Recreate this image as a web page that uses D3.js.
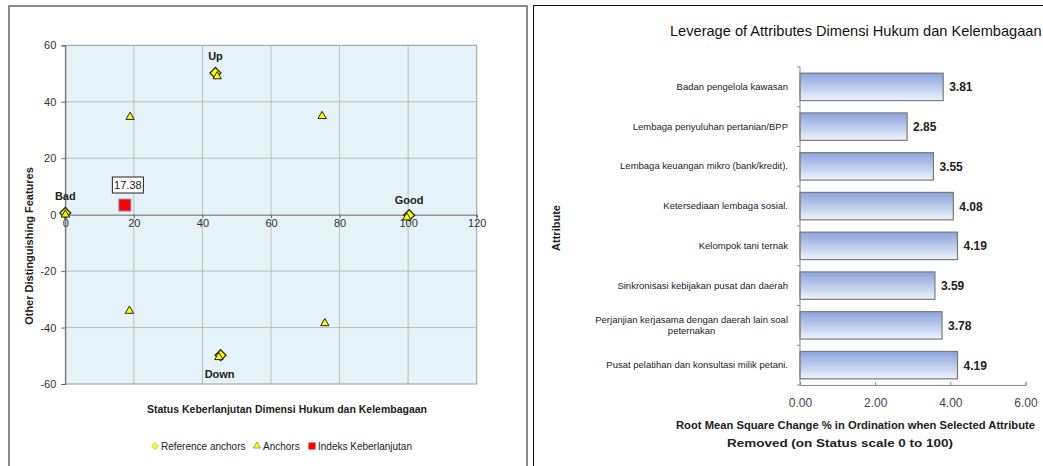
<!DOCTYPE html>
<html>
<head>
<meta charset="utf-8">
<script src="https://cdn.jsdelivr.net/npm/d3@7"></script>
<style>
  body { margin: 0; background: #fff; }
  svg { display: block; font-family: "Liberation Sans", Arial, sans-serif; }
</style>
</head>
<body>
<div id="chart"></div>
<script>
// ---- data: left (RAP ordination) ----
const refAnchors = [
  { name: 'Bad', x: 0, y: 0.6 },
  { name: 'Good', x: 100.3, y: -0.2 },
  { name: 'Up', x: 43.8, y: 50.2 },
  { name: 'Down', x: 45.3, y: -49.8 }
];
const anchors = [
  { x: 0, y: 0 }, { x: 99.6, y: -1 }, { x: 44.3, y: 49 }, { x: 44.8, y: -50.5 },
  { x: 18.9, y: 34.6 }, { x: 74.9, y: 34.9 }, { x: 18.7, y: -34.1 }, { x: 75.7, y: -38.5 }
];
const indeks = [{ x: 17.38, y: 3.4 }];
const xTicksL = [0, 20, 40, 60, 80, 100, 120];
const yTicksL = [-60, -40, -20, 0, 20, 40, 60];
const legendItems = ['Reference anchors', 'Anchors', 'Indeks Keberlanjutan'];

// ---- data: right (leverage) ----
const attributes = [
  'Badan pengelola kawasan',
  'Lembaga penyuluhan pertanian/BPP',
  'Lembaga keuangan mikro (bank/kredit).',
  'Ketersediaan lembaga sosial.',
  'Kelompok tani ternak',
  'Sinkronisasi kebijakan pusat dan daerah',
  'Perjanjian kerjasama dengan daerah lain soal peternakan',
  'Pusat pelatihan dan konsultasi milik petani.'
];
const leverage = [3.81, 2.85, 3.55, 4.08, 4.19, 3.59, 3.78, 4.19];
const xTicksR = [0, 2, 4, 6];

const W = 1043, H = 466;
const svg = d3.select('#chart').append('svg').attr('width', W).attr('height', H);

// diamond = square turned 45deg (d3's symbolDiamond is too narrow)
const diamond = r => `M0,${-r}L${r},0L0,${r}L${-r},0Z`;

// ================= LEFT PANEL =================
svg.append('rect').attr('x', 9).attr('y', 6).attr('width', 518).attr('height', 480)
  .attr('fill', 'none').attr('stroke', '#8a8a8a').attr('stroke-width', 2);

const xL = d3.scaleLinear().domain([0, 120]).range([65.3, 476.7]);
const yL = d3.scaleLinear().domain([-60, 60]).range([384, 45.3]);

const left = svg.append('g');
left.append('rect')
  .attr('x', xL(0)).attr('y', yL(60))
  .attr('width', xL(120) - xL(0)).attr('height', yL(-60) - yL(60))
  .attr('fill', '#e5f2f7').attr('stroke', '#9a9a9a');

// gridlines
left.selectAll('.vgrid').data(xTicksL.slice(1, -1)).join('line')
  .attr('x1', d => xL(d)).attr('x2', d => xL(d))
  .attr('y1', yL(60)).attr('y2', yL(-60))
  .attr('stroke', '#b8bfc2');
left.selectAll('.hgrid').data(yTicksL.slice(1, -1).filter(d => d !== 0)).join('line')
  .attr('x1', xL(0)).attr('x2', xL(120))
  .attr('y1', d => yL(d)).attr('y2', d => yL(d))
  .attr('stroke', '#b8bfc2');

// axes crossing at 0
const xAxisL = left.append('g').attr('transform', `translate(0,${yL(0)})`)
  .call(d3.axisBottom(xL).tickValues(xTicksL).tickSize(3).tickFormat(d => String(d)));
const yAxisL = left.append('g').attr('transform', `translate(${xL(0)},0)`)
  .call(d3.axisLeft(yL).tickValues(yTicksL).tickSize(4).tickFormat(d => String(d)));
[xAxisL, yAxisL].forEach(a => {
  a.select('.domain').attr('stroke', '#666');
  a.selectAll('.tick line').attr('stroke', '#666');
  a.selectAll('text').attr('font-size', 11).attr('fill', '#333')
    .attr('font-family', '"Liberation Sans", Arial, sans-serif');
});
xAxisL.selectAll('text').attr('dy', '0.6em');
yAxisL.selectAll('text').attr('dx', '-2');

// reference anchors (diamonds) and anchors (triangles)
const tri = d3.symbol().type(d3.symbolTriangle).size(30);
left.selectAll('.ref').data(refAnchors).join('path')
  .attr('transform', d => `translate(${xL(d.x)},${yL(d.y)})`)
  .attr('d', diamond(5.5)).attr('fill', '#ffff00').attr('stroke', '#222').attr('stroke-width', 1.2);
left.selectAll('.anc').data(anchors).join('path')
  .attr('transform', d => `translate(${xL(d.x)},${yL(d.y)})`)
  .attr('d', tri).attr('fill', '#ffff00').attr('stroke', '#222').attr('stroke-width', 1);

// indeks point
left.selectAll('.idx').data(indeks).join('rect')
  .attr('x', d => xL(d.x) - 6).attr('y', d => yL(d.y) - 6)
  .attr('width', 12).attr('height', 12)
  .attr('fill', '#ff0000').attr('stroke', '#8a8ac8');
indeks.forEach(d => {
  left.append('rect').attr('x', xL(d.x) - 12.5).attr('y', 177)
    .attr('width', 31).attr('height', 16).attr('fill', '#fff').attr('stroke', '#222');
  left.append('text').attr('x', xL(d.x) + 3).attr('y', 189)
    .attr('text-anchor', 'middle').attr('font-size', 11).attr('fill', '#222')
    .text(d.x.toFixed(2));
});

// anchor labels
const labelOff = { Bad: [0, -13], Good: [0, -11], Up: [0, -13], Down: [-1, 23] };
left.selectAll('.rlab').data(refAnchors).join('text')
  .attr('x', d => xL(d.x) + labelOff[d.name][0])
  .attr('y', d => yL(d.y) + labelOff[d.name][1])
  .attr('text-anchor', 'middle').attr('font-size', 11).attr('font-weight', 'bold')
  .attr('fill', '#222').text(d => d.name);

// axis titles
left.append('text')
  .attr('transform', `translate(33,246) rotate(-90)`)
  .attr('text-anchor', 'middle').attr('font-size', 11).attr('font-weight', 'bold')
  .attr('fill', '#222').text('Other Distinguishing Features');
left.append('text').attr('x', 287).attr('y', 413)
  .attr('text-anchor', 'middle').attr('font-size', 10.5).attr('font-weight', 'bold')
  .attr('fill', '#222').text('Status Keberlanjutan Dimensi Hukum dan Kelembagaan');

// legend
const legX = [155, 257, 312];
const leg = left.selectAll('.leg').data(legendItems).join('g')
  .attr('transform', (d, i) => `translate(${legX[i]},446)`);
leg.each(function (d, i) {
  const g = d3.select(this);
  if (i === 0) g.append('path').attr('d', diamond(3.5))
    .attr('fill', '#ffff00').attr('stroke', '#999').attr('stroke-width', 0.6);
  if (i === 1) g.append('path').attr('d', d3.symbol().type(d3.symbolTriangle).size(22))
    .attr('fill', '#ffff00').attr('stroke', '#666').attr('stroke-width', 0.6);
  if (i === 2) g.append('rect').attr('x', -3.5).attr('y', -3.5).attr('width', 7).attr('height', 7)
    .attr('fill', '#ff0000');
  g.append('text').attr('x', 6).attr('y', 3.5).attr('font-size', 10).attr('fill', '#222').text(d);
});

// ================= RIGHT PANEL =================
svg.append('rect').attr('x', 533.5).attr('y', 5.5).attr('width', 520).attr('height', 480)
  .attr('fill', 'none').attr('stroke', '#111');

const right = svg.append('g');
right.append('text').attr('x', 670).attr('y', 36).attr('font-size', 14.6).attr('fill', '#111')
  .text('Leverage of Attributes Dimensi Hukum dan Kelembagaan');

const xR = d3.scaleLinear().domain([0, 6]).range([800, 1025.5]);
const yR = d3.scaleBand().domain(attributes).range([67, 385]).paddingInner(0.31).paddingOuter(0.155);

const defs = svg.append('defs');
const grad = defs.append('linearGradient').attr('id', 'barGrad')
  .attr('x1', 0).attr('y1', 0).attr('x2', 0).attr('y2', 1);
grad.append('stop').attr('offset', '0%').attr('stop-color', '#8aa4dc');
grad.append('stop').attr('offset', '100%').attr('stop-color', '#eef2fb');

const bars = attributes.map((a, i) => ({ name: a, value: leverage[i] }));
right.selectAll('.bar').data(bars).join('rect')
  .attr('x', xR(0)).attr('y', d => yR(d.name))
  .attr('width', d => xR(d.value) - xR(0)).attr('height', yR.bandwidth())
  .attr('fill', 'url(#barGrad)').attr('stroke', '#7a7a7a').attr('stroke-width', 1.2);
right.selectAll('.val').data(bars).join('text')
  .attr('x', d => xR(d.value) + 6).attr('y', d => yR(d.name) + yR.bandwidth() / 2 + 4.5)
  .attr('font-size', 12).attr('font-weight', 'bold').attr('fill', '#222')
  .text(d => d.value.toFixed(2));

// y axis: line with ticks at band edges
right.append('line').attr('x1', xR(0)).attr('x2', xR(0)).attr('y1', 67).attr('y2', 385)
  .attr('stroke', '#888');
const edges = d3.range(attributes.length + 1).map(i => 67 + i * (385 - 67) / attributes.length);
right.selectAll('.etick').data(edges).join('line')
  .attr('x1', xR(0) - 3).attr('x2', xR(0)).attr('y1', d => d).attr('y2', d => d)
  .attr('stroke', '#888');

// category labels
right.selectAll('.cat').data(attributes).join('text')
  .attr('x', 788).attr('y', d => yR(d) + yR.bandwidth() / 2 + 3)
  .attr('text-anchor', 'end').attr('font-size', 9.5).attr('fill', '#222')
  .each(function (d) {
    const t = d3.select(this);
    if (d.length > 45) {
      const cut = d.lastIndexOf(' ');
      const l1 = t.append('tspan').attr('x', 788).text(d.slice(0, cut));
      const cx = 788 - l1.node().getComputedTextLength() / 2;
      t.attr('text-anchor', 'middle').attr('y', yR(d) + yR.bandwidth() / 2 - 2);
      l1.attr('x', cx);
      t.append('tspan').attr('x', cx).attr('dy', 11).text(d.slice(cut + 1));
    } else t.text(d);
  });

// x axis
const xAxisR = right.append('g').attr('transform', 'translate(0,385)')
  .call(d3.axisBottom(xR).tickValues(xTicksR).tickSize(-3).tickPadding(13).tickFormat(d3.format('.2f')));
xAxisR.select('.domain').attr('stroke', '#888');
xAxisR.selectAll('.tick line').attr('stroke', '#888');
xAxisR.selectAll('text').attr('font-size', 12).attr('fill', '#444')
  .attr('font-family', '"Liberation Sans", Arial, sans-serif');

right.append('text')
  .attr('transform', 'translate(560,228) rotate(-90)')
  .attr('text-anchor', 'middle').attr('font-size', 11).attr('font-weight', 'bold')
  .attr('fill', '#222').text('Attribute');
right.append('text').attr('x', 676).attr('y', 429)
  .attr('textLength', 359).attr('lengthAdjust', 'spacingAndGlyphs')
  .attr('font-size', 11.5).attr('font-weight', 'bold').attr('fill', '#222')
  .text('Root Mean Square Change % in Ordination when Selected Attribute');
right.append('text').attr('x', 727).attr('y', 447)
  .attr('textLength', 226).attr('lengthAdjust', 'spacingAndGlyphs')
  .attr('font-size', 11.5).attr('font-weight', 'bold').attr('fill', '#222')
  .text('Removed (on Status scale 0 to 100)');
</script>
</body>
</html>
